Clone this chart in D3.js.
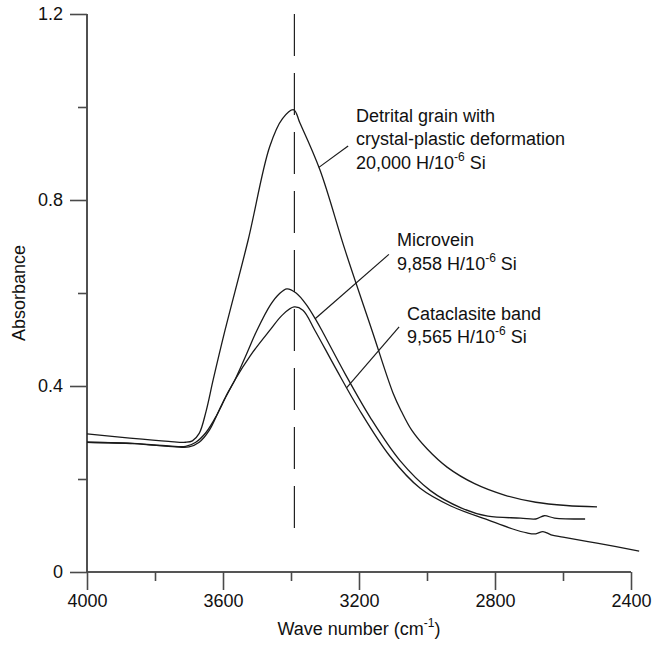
<!DOCTYPE html>
<html>
<head>
<meta charset="utf-8">
<script src="https://cdn.jsdelivr.net/npm/d3@7"></script>
<style>
  html, body { margin: 0; padding: 0; background: #fff; }
  svg text { font-family: "Liberation Sans", Arial, sans-serif; fill: #111; }
</style>
</head>
<body>
<svg id="chart" width="654" height="650"></svg>
<script>
// FTIR absorbance spectra: wave number (cm^-1) vs absorbance
const detritalWave = [4000, 3874, 3760, 3710, 3690, 3670, 3650, 3629, 3594, 3526, 3463, 3425, 3392, 3374, 3315, 3240, 3162, 3100, 3075, 3045, 3000, 2940, 2860, 2770, 2680, 2590, 2500];
const detritalAbs  = [0.297, 0.288, 0.281, 0.279, 0.282, 0.298, 0.345, 0.413, 0.520, 0.714, 0.914, 0.975, 0.994, 0.966, 0.865, 0.690, 0.520, 0.385, 0.345, 0.305, 0.265, 0.225, 0.190, 0.165, 0.150, 0.143, 0.140];

const microveinWave = [4000, 3880, 3760, 3710, 3680, 3650, 3620, 3590, 3565, 3530, 3500, 3460, 3435, 3412, 3385, 3355, 3325, 3306, 3240, 3165, 3080, 2990, 2900, 2821, 2725, 2680, 2655, 2625, 2535];
const microveinAbs  = [0.279, 0.277, 0.271, 0.270, 0.279, 0.300, 0.335, 0.380, 0.413, 0.470, 0.520, 0.575, 0.598, 0.609, 0.600, 0.575, 0.540, 0.515, 0.425, 0.330, 0.240, 0.175, 0.138, 0.120, 0.116, 0.114, 0.121, 0.116, 0.114];

const cataclasiteWave = [4000, 3860, 3740, 3700, 3670, 3640, 3610, 3565, 3520, 3462, 3425, 3391, 3365, 3330, 3270, 3200, 3110, 3020, 2930, 2821, 2750, 2706, 2680, 2659, 2635, 2600, 2500, 2376];
const cataclasiteAbs  = [0.279, 0.276, 0.269, 0.269, 0.279, 0.305, 0.350, 0.413, 0.465, 0.520, 0.553, 0.570, 0.563, 0.520, 0.440, 0.350, 0.250, 0.180, 0.142, 0.112, 0.093, 0.084, 0.082, 0.087, 0.080, 0.075, 0.062, 0.045];

const yTicks = [0, 0.4, 0.8, 1.2];
const yMinorTicks = [0.2, 0.6, 1.0];
const xTicks = [4000, 3600, 3200, 2800, 2400];
const xMinorTicks = [3800, 3400, 3000, 2600];

// reference band position (dashed line)
const bandWave = 3390;
const bandRange = [0.09, 1.2];

const series = {
  detrital: [detritalWave, detritalAbs],
  microvein: [microveinWave, microveinAbs],
  cataclasite: [cataclasiteWave, cataclasiteAbs]
};

// annotations: text anchor (wave, abs), leader from (wave, abs) to a wave on the spectrum
const labels = [
  { key: "detrital", lines: ["Detrital grain with", "crystal-plastic deformation", "20,000 H/10|-6| Si"],
    at: [3209, 0.968], from: [3232, 0.916], toWave: 3318 },
  { key: "microvein", lines: ["Microvein", "9,858 H/10|-6| Si"],
    at: [3088, 0.701], from: [3112, 0.683], toWave: 3329 },
  { key: "cataclasite", lines: ["Cataclasite band", "9,565 H/10|-6| Si"],
    at: [3059, 0.542], from: [3082, 0.527], toWave: 3236 }
];

const svg = d3.select("#chart");
const m = { left: 87, right: 631, top: 14, bottom: 572 };

const x = d3.scaleLinear().domain([4000, 2400]).range([m.left, m.right]);
const y = d3.scaleLinear().domain([0, 1.2]).range([m.bottom, m.top]);

const axisColor = "#4a4a4a";

// y axis
const yAxis = svg.append("g").attr("transform", `translate(${m.left},0)`);
yAxis.call(d3.axisLeft(y).tickValues(yTicks).tickSize(17).tickPadding(7)
  .tickFormat(d => d === 0 ? "0" : d3.format(".1f")(d)));
yAxis.append("g").call(d3.axisLeft(y).tickValues(yMinorTicks).tickSize(9).tickFormat(""));
yAxis.selectAll("path.domain").attr("d", `M0,${m.top}V${m.bottom}`);

// x axis
const xAxis = svg.append("g").attr("transform", `translate(0,${m.bottom})`);
xAxis.call(d3.axisBottom(x).tickValues(xTicks).tickSize(18).tickPadding(4).tickFormat(d3.format("d")));
xAxis.append("g").call(d3.axisBottom(x).tickValues(xMinorTicks).tickSize(9).tickFormat(""));
xAxis.selectAll("path.domain").attr("d", `M${m.left},0H${m.right}`);

svg.selectAll(".domain, .tick line").attr("stroke", axisColor).attr("stroke-width", 1.6);
svg.selectAll(".tick text").attr("font-size", 18).attr("fill", "#111")
  .attr("font-family", "Liberation Sans, Arial, sans-serif");

// axis titles
svg.append("text")
  .attr("transform", `translate(25,${(m.top + m.bottom) / 2}) rotate(-90)`)
  .attr("text-anchor", "middle").attr("font-size", 18)
  .text("Absorbance");

const xt = svg.append("text")
  .attr("x", (m.left + m.right) / 2).attr("y", 635)
  .attr("text-anchor", "middle").attr("font-size", 18);
xt.append("tspan").text("Wave number (cm");
xt.append("tspan").attr("font-size", 12).attr("dy", -8).text("-1");
xt.append("tspan").attr("dy", 8).text(")");

// dashed band marker
svg.append("line")
  .attr("x1", x(bandWave)).attr("x2", x(bandWave))
  .attr("y1", y(bandRange[1])).attr("y2", y(bandRange[0]))
  .attr("stroke", "#222").attr("stroke-width", 1.2)
  .attr("stroke-dasharray", "42,17");

// spectra
const line = d3.line().x(d => x(d[0])).y(d => y(d[1])).curve(d3.curveCatmullRom.alpha(0.5));
Object.values(series).forEach(([w, a]) => {
  svg.append("path")
    .datum(w.map((v, i) => [v, a[i]]))
    .attr("d", line)
    .attr("fill", "none").attr("stroke", "#1a1a1a").attr("stroke-width", 1.3);
});

// annotations
labels.forEach(lab => {
  const [w, a] = series[lab.key];
  const onCurve = d3.scaleLinear().domain(w).range(a);
  svg.append("line")
    .attr("x1", x(lab.from[0])).attr("y1", y(lab.from[1]))
    .attr("x2", x(lab.toWave)).attr("y2", y(onCurve(lab.toWave)))
    .attr("stroke", "#1a1a1a").attr("stroke-width", 1.2);
  lab.lines.forEach((str, i) => {
    const t = svg.append("text")
      .attr("x", x(lab.at[0])).attr("y", y(lab.at[1]) + i * 23.5)
      .attr("font-size", 18);
    const parts = str.split("|");
    t.append("tspan").text(parts[0]);
    if (parts.length > 1) {
      t.append("tspan").attr("font-size", 12).attr("dy", -8).text(parts[1]);
      t.append("tspan").attr("dy", 8).text(parts[2]);
    }
  });
});
</script>
</body>
</html>
